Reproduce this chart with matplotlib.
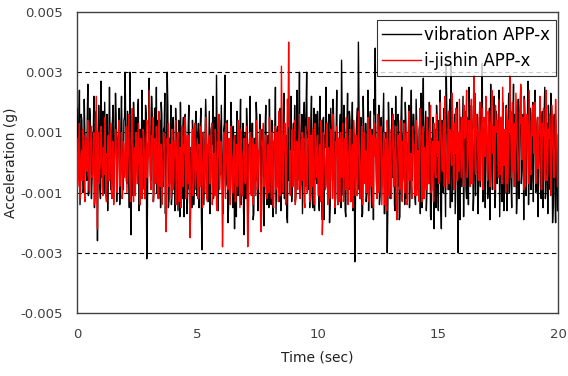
import numpy as np
import matplotlib
matplotlib.use("Agg")
from matplotlib import pyplot as plt

# sample step of the two records (sec); the "_mid" lists hold the samples
# that fall half a step after the main ones
dt = 0.05

# vibration APP-x, values in units of 1e-4 g, one row per second
vibration = [
	18, -4, 24, 2, 14, -10, 21, 8, -6, 26, 0, 15, -12, 10, 22, -3, 17, -26, 19, -8,
	27, -5, 12, 20, -11, 16, 3, 25, -9, 11, 19, -2, 23, -13, 8, 18, -7, 22, 1, 14,
	30, -6, 17, 4, 30, -24, 12, 20, -10, 15, 2, 21, -14, 9, 24, -8, 13, 19, -32, 6,
	28, -4, 22, 10, -9, 18, 25, 5, -12, 14, 20, -6, 11, 23, 0, 30, -15, 8, 19, -10,
	15, -8, 18, 2, -16, 12, 20, -5, 9, -18, 16, 4, -11, 19, 1, -7, 14, -14, 10, 17,
	-6, 13, 3, 18, -29, 10, -3, 21, 5, -13, 17, -9, 12, 22, -4, 8, 29, -12, 15, 2,
	19, -10, 11, 29, -7, 14, -15, 6, 20, -3, 12, -22, 9, 17, -11, 4, 21, -8, 13, -24,
	10, 18, -12, 6, 22, -5, 13, -17, 8, 20, -9, 2, 16, -20, 11, 5, -7, 19, -14, 9,
	21, -6, 14, -18, 7, 25, -2, 12, -13, 18, 3, -10, 23, -4, 9, -20, 15, 1, 22, -8,
	13, 19, -11, 24, 6, 30, -7, 16, -3, 20, 11, 30, -9, 14, 2, 22, -15, 18, 5, -5,
	17, -12, 22, 4, -19, 15, 9, 25, -6, 12, -20, 18, 1, 21, -8, 10, 24, -14, 7, 16,
	34, -5, 19, -16, 11, 23, -9, 14, 3, 20, -12, -33, 8, 18, 40, -4, 15, -18, 22, 6,
	13, -10, 24, 2, 17, -15, 9, 21, 38, -6, 12, 19, -11, 15, 4, 23, -17, 10, -30, 20,
	7, -9, 18, 12, -14, 22, 3, 16, -19, 9, 25, -5, 14, 20, -12, 6, 19, -8, 24, 1,
	16, -11, 21, 5, -7, 13, 23, -15, 28, 4, 17, -10, 12, 20, -18, 8, 15, -22, 11, 19,
	-6, 14, 24, -22, 9, 18, -4, 33, 12, -9, 21, 33, -13, 7, 16, -2, 20, -30, 10, 15,
	-8, 22, 5, 17, -12, 13, 25, -3, 19, 9, -10, 23, 2, 15, -6, 20, 11, 33, -7, 14,
	21, 4, -9, 18, 26, -2, 12, 22, -11, 16, 6, 24, -5, 13, 20, -16, 10, 19, -4, 23,
	8, -7, 17, 26, 3, 14, -10, 21, 9, 25, -3, 16, 22, -8, 12, 27, 1, 18, -6, 20,
	11, 24, -5, 15, 2, 21, -12, 17, 7, 25, -9, 13, 19, -2, 23, 6, -14, 16, -20, 9,
]
vibration_mid = [
	5, 12, -14, 16, 3, -9, 10, -2, 14, -11, 18, 4, -6, 9, -15, 13, 6, -1, 10, -12,
	8, 17, -10, 4, 12, -16, 9, 7, -8, 14, -13, 9, 16, -5, 11, -14, 13, 5, -9, 15,
	12, -7, 10, -15, 15, 6, -11, 13, -4, 1, 17, -16, 11, 4, -9, 14, -12, 16, -18, 7,
	10, -6, 15, -13, 18, 5, -10, 14, 2, -15, 16, -8, 12, -17, 7, 19, -12, 4, -14, 13,
	3, -16, 11, -7, 14, -18, 6, -12, 15, -4, 8, -17, 12, -9, 5, -15, 10, -6, 13, -11,
	9, -15, 12, -19, 4, -14, 7, 13, -10, 3, -17, 11, 6, -12, 15, -8, 9, -16, 14, -4,
	5, -17, 13, -8, 10, -20, 6, -11, 12, -15, 3, 9, -18, 6, -9, 11, -14, 4, -16, 7,
	-12, 11, -17, 5, -10, 13, -19, 8, -6, 15, -16, 4, 10, -13, 6, -21, 12, -8, 7, -15,
	6, -14, 13, -9, 8, -17, 11, -5, 14, -16, 2, 10, -12, 7, -18, 12, -6, 15, -13, 9,
	4, -13, 12, -6, 15, -11, 9, -17, 13, -8, 17, -4, 10, -15, 14, -11, 8, -16, 16, -7,
	11, -16, 7, -12, 14, -19, 5, 12, -9, 16, -14, 9, -6, 13, -17, 10, -12, 4, 11, -15,
	14, -11, 6, -18, 12, -7, 17, -13, 9, -16, 5, -15, 13, -9, 18, -12, 7, -17, 10, -6,
	-13, 9, -16, 13, -8, 11, -19, 16, 4, -11, 8, -14, 12, -6, 15, -17, 7, -10, -14, 11,
	-12, 10, -5, 14, -16, 6, -8, 12, -18, 15, -7, 9, -14, 13, -10, 7, -15, 11, -6, 16,
	9, -14, 13, -9, 11, -17, 6, 14, -12, 10, -16, 15, -7, 12, -19, 5, -12, 9, -15, 13,
	-16, 6, -13, 14, -10, 11, -18, 17, -8, 13, -15, 16, -7, 10, -17, 12, -13, 9, -19, 14,
	7, -18, 12, -9, 15, -14, 18, -6, 13, -16, 8, -11, 16, -17, 11, -8, 17, -13, 10, -15,
	14, -12, 8, -19, 16, -9, 13, -15, 17, -7, 12, -18, 10, -13, 15, -6, 11, -16, 14, -10,
	13, -15, 11, -8, 16, -17, 9, -12, 18, -7, 10, -19, 15, -11, 12, -14, 8, -9, 16, -13,
	15, -10, 12, -18, 10, -7, 14, -15, 16, -12, 11, -17, 13, -9, 8, -20, 14, -11, 10, -16,
]

# i-jishin APP-x, same units
ijishin = [
	8, -5, 13, -10, 4, 11, -7, 9, -2, 14, -9, 6, 12, -4, 10, -12, 22, -22, 7, -3,
	12, -8, 5, 15, -11, 3, 9, -6, 13, -12, 7, 1, 11, -9, 4, 14, -5, 10, -10, 6,
	-3, 12, 0, 16, -8, 7, 18, -13, 5, 10, -7, 13, -2, 8, -12, 11, 3, -9, 14, 1,
	24, -6, 9, 15, -10, 4, 12, -4, 17, -8, 6, -11, 10, 2, -23, 8, 13, -7, 5, 11,
	-9, 7, 14, -5, 10, -13, 3, 12, -8, 6, 15, -10, 1, 9, -25, 5, 11, -6, 13, -3,
	8, -11, 4, 12, -7, 10, -2, 15, -12, 6, 9, -5, 13, -9, 3, 11, -14, 7, 16, -4,
	5, -28, 10, -6, 13, -1, 7, -10, 12, 2, -8, 9, -13, 6, 14, -4, 11, -9, 3, 8,
	-7, 12, -28, 5, 10, -11, 8, 1, -6, 14, -9, 4, 11, -23, 7, 13, -5, 9, -12, 6,
	15, -3, 10, -14, 6, 12, -8, 3, 17, -11, 32, -5, 9, 13, -7, 21, 40, -10, 4, 11,
	-6, 14, -12, 7, 2, 16, -9, 10, 5, -13, 12, -4, 8, 15, -10, 3, 11, -7, 13, -2,
	9, -11, 6, 14, -24, 10, 1, -8, 13, 5, -12, 11, -3, 16, -9, 7, 12, -14, 4, 10,
	-5, 13, -10, 8, 15, -7, 3, 11, -13, 6, 14, -4, 9, -11, 17, 2, -8, 12, -6, 10,
	4, -9, 15, -3, 11, 7, -12, 13, 2, -7, 16, -10, 8, 12, -5, 10, -14, 6, 14, -2,
	11, -8, 5, 16, -6, 12, -19, 9, 3, 14, -10, 7, 13, -4, 10, -12, 17, 1, -7, 12,
	6, -11, 14, 3, -6, 18, 9, -13, 12, 5, -8, 15, -2, 10, 19, -9, 7, 13, -4, 16,
	2, -7, 20, 8, -3, 14, 22, 1, -9, 17, 11, 4, 23, -5, 13, 18, -6, 10, 21, 3,
	15, -4, 19, 9, 24, 0, 14, -8, 21, 7, 29, -2, 16, 11, -6, 20, 5, 18, -3, 13,
	22, 2, 17, -5, 12, 24, 6, -9, 19, 10, 3, 21, -4, 15, 25, -1, 11, 18, -7, 14,
	29, 5, 20, -3, 13, 23, 8, -6, 17, 26, 1, 12, 21, -8, 16, 9, 24, -2, 14, 19,
	3, 20, -4, 15, 10, 22, -9, 13, 18, 2, 24, -6, 11, 16, -11, 19, 7, -3, 21, 4,
]
ijishin_mid = [
	-8, 6, -12, 3, -6, 9, -13, 7, -3, 5, -10, 8, -5, 2, -14, 6, -9, 10, -7, 1,
	5, -11, -4, 8, -13, 2, -6, 10, -9, 3, -14, 4, 9, -10, 6, -8, 1, -12, 7, -5,
	7, -10, 9, -4, -13, 11, -6, 3, -11, 8, -7, 6, -14, 4, -9, 9, -12, 7, -5, 2,
	10, -9, 4, -13, 8, -7, 6, -12, 9, -5, -14, 4, 7, -10, -15, 3, -8, 6, -12, 5,
	-6, 2, -14, 8, -10, 5, -15, 6, -8, 3, -12, 9, -7, 1, -16, 4, -11, 7, -9, 3,
	-12, 6, -8, 1, -15, 5, -10, 8, -13, 4, -7, 9, -14, 3, -11, 6, -16, 2, -9, 7,
	-7, -15, 4, -12, 5, -9, 8, -14, 3, -10, 7, -13, 2, -8, 6, -15, 9, -11, 4, -6,
	2, -13, -16, 8, -9, 4, -14, 6, -11, 9, -7, 3, -15, -17, 5, -8, 7, -12, 2, -10,
	8, -12, 5, -15, 6, -9, 10, -13, 9, -7, 14, -10, 4, -14, 7, 12, 18, -11, 3, -8,
	3, -14, 7, -9, 9, -12, 5, -6, 8, -15, 4, -10, 6, -13, 9, -8, 2, -14, 7, -5,
	-11, 5, -13, 8, -17, 4, -9, 7, -14, 3, -8, 9, -12, 6, -15, 2, -10, 8, -13, 5,
	4, -13, 7, -9, 5, -14, 8, -6, 3, -15, 9, -11, 6, -8, 10, -12, 4, -14, 7, -7,
	-10, 7, -13, 5, -8, 9, -15, 4, 8, -12, 6, -9, 10, -14, 3, -7, 8, -16, 5, -11,
	3, -12, 9, -8, 5, -14, -17, 4, -9, 7, -13, 6, -10, 8, -14, 9, -6, 3, -12, 5,
	-8, 8, -11, 4, -13, 9, -6, 10, -12, 3, -9, 11, -7, 12, -10, 6, -13, 8, -5, 10,
	7, -6, 10, -2, 12, -8, 9, -4, 13, -7, 8, -1, 14, -9, 3, 11, -6, -3, 12, -5,
	4, -8, 8, 15, -5, 10, -3, 13, -7, 12, 16, -4, 9, -2, 14, -6, 11, -9, 15, 2,
	10, -6, 13, -8, 16, 3, 12, -9, 11, 14, -5, 9, 15, -7, 12, 2, -10, 13, -4, 10,
	14, -5, 9, 12, -8, 16, 2, -6, 13, 7, 15, -9, 10, 3, 14, -7, 12, -4, 9, 11,
	8, -7, 13, -2, 10, 14, -9, 9, 12, -6, 16, -3, 8, 11, -10, 13, -5, 9, 14, -8,
]

x_ticks = [0, 5, 10, 15, 20]
y_ticks = [-0.005, -0.003, -0.001, 0.001, 0.003, 0.005]
grid_levels = [-0.003, -0.001, 0.001, 0.003]


def merge(main, mid):
	# put every mid sample right after its main sample
	out = np.empty(len(main) + len(mid))
	out[0::2] = main
	out[1::2] = mid
	return out * 1e-4


vib = merge(vibration, vibration_mid)
iji = merge(ijishin, ijishin_mid)
t = np.arange(len(vib)) * dt / 2

fig = plt.figure(figsize=(5.68, 3.76), dpi=100)
ax = fig.add_axes([0.1356, 0.1676, 0.8468, 0.8004])

ax.plot(t, vib, color="black", lw=1.0, label="vibration APP-x", zorder=3)
ax.plot(t, iji, color="red", lw=1.0, label="i-jishin APP-x", zorder=4)

ax.set_xlim(0, 20)
ax.set_ylim(-0.005, 0.005)
ax.set_xticks(x_ticks)
ax.set_yticks(y_ticks)
ax.set_yticklabels(["%.3f" % v for v in y_ticks])
ax.tick_params(length=0, labelsize=9.5, colors="#404040")
ax.tick_params(axis="y", pad=10)
ax.tick_params(axis="x", pad=11)

for v in grid_levels:
	ax.axhline(v, color="black", lw=0.8, ls=(0, (4, 3)), zorder=2)

for s in ax.spines.values():
	s.set_color("#404040")
	s.set_linewidth(1)

ax.set_xlabel("Time (sec)", fontsize=10, color="#222222", labelpad=7)
ax.set_ylabel("Acceleration (g)", fontsize=10, color="#222222")
ax.yaxis.set_label_coords(-0.123, 0.5)

leg = ax.legend(loc="upper right", bbox_to_anchor=(0.9958, 0.9734), fontsize=12,
	frameon=True, fancybox=False, handlelength=2.3, borderpad=0.35,
	labelspacing=0.5, handletextpad=0.2, borderaxespad=0)
leg.get_frame().set_edgecolor("black")
leg.get_frame().set_linewidth(0.8)
leg.set_zorder(10)

fig.savefig("out.png", dpi=100)
